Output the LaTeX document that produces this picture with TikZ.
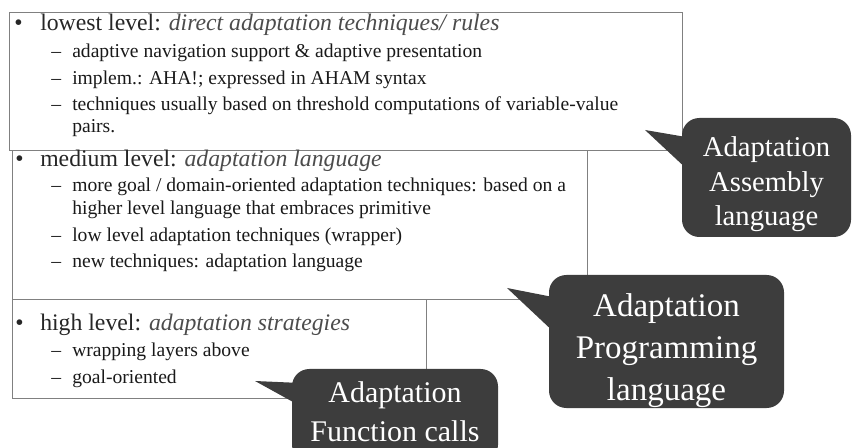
\documentclass[tikz,border=0pt]{standalone}
\usepackage{fontspec}
\setmainfont{Liberation Serif}
\usetikzlibrary{positioning}

\begin{document}
\begin{tikzpicture}[x=0.75pt,y=-0.75pt,
		level/.style={draw=black!50,line width=0.7pt},
		head/.style={anchor=base west,inner sep=0pt,text=black!85,font=\fontsize{17.8}{21}\selectfont},
		item/.style={anchor=base west,inner sep=0pt,text=black!90,font=\fontsize{14.7}{17}\selectfont},
		bubble/.style={fill=black!76,rounded corners=13pt,inner sep=0pt},
		bubtext/.style={text=white,align=center,inner sep=0pt},
		tail/.style={fill=black!76}]
		\clip (0,0) rectangle (852,448);
		
		% lowest level
		\draw[level] (9,12) rectangle (682,150);
		\node[head] (lowdot) at (14,31) {•};
		\node[head] (low) at (40,31) {lowest level: {\itshape\color{black!70}direct adaptation techniques/ rules}};
		\node[item] (lowd1) at (51,58) {–};
		\node[item] (low1) at (72,58) {adaptive navigation support \& adaptive presentation};
		\node[item] (lowd2) at (51,85) {–};
		\node[item] (low2) at (72,85) {implem.: AHA!; expressed in AHAM syntax};
		\node[item] (lowd3) at (51,111) {–};
		\node[item] (low3) at (72,111) {techniques usually based on threshold computations of variable-value};
		\node[item] (low3b) at (72,133) {pairs.};
		
		% medium level
		\draw[level] (12,150) rectangle (587,299);
		\node[head] (meddot) at (15,167) {•};
		\node[head] (med) at (40,167) {medium level: {\itshape\color{black!70}adaptation language}};
		\node[item] (medd1) at (51,192) {–};
		\node[item] (med1) at (72,192) {more goal / domain-oriented adaptation techniques: based on a};
		\node[item] (med1b) at (72,215) {higher level language that embraces primitive};
		\node[item] (medd2) at (51,242) {–};
		\node[item] (med2) at (72,242) {low level adaptation techniques (wrapper)};
		\node[item] (medd3) at (51,268) {–};
		\node[item] (med3) at (72,268) {new techniques: adaptation language};
		
		% high level
		\draw[level] (12,299) rectangle (426,398);
		\node[head] (highdot) at (15,331) {•};
		\node[head] (high) at (40,331) {high level: {\itshape\color{black!70}adaptation strategies}};
		\node[item] (highd1) at (51,357) {–};
		\node[item] (high1) at (72,357) {wrapping layers above};
		\node[item] (highd2) at (51,383) {–};
		\node[item] (high2) at (72,383) {goal-oriented};
		
		% callouts
		\node[bubble,minimum width=126.75pt,minimum height=89.25pt] (asm) at (766.5,177.5) {};
		\node[bubtext,font=\fontsize{21.5}{26}\selectfont] (asmtext) at ([yshift=-5pt]asm.center) {Adaptation\\Assembly\\language};
		\coordinate (asmtip) at (645,130);
		\fill[tail] (asmtip) -- ([xshift=2pt,yshift=-14.25pt]asm.north west) -- ([xshift=2pt,yshift=-36.75pt]asm.north west) -- cycle;
		
		\node[bubble,minimum width=176.25pt,minimum height=99.75pt] (prog) at (666.5,341.5) {};
		\node[bubtext,font=\fontsize{24.75}{31.5}\selectfont] (progtext) at ([yshift=-7pt]prog.center) {Adaptation\\Programming\\language};
		\coordinate (progtip) at (507,288);
		\fill[tail] (progtip) -- ([xshift=2pt,yshift=-16.5pt]prog.north west) -- ([xshift=2pt,yshift=-41.25pt]prog.north west) -- cycle;
		
		\node[bubble,minimum width=154.5pt,minimum height=69.75pt] (func) at (395,415.5) {};
		\node[bubtext,font=\fontsize{22.5}{29}\selectfont] (functext) at ([yshift=3pt]func.center) {Adaptation\\Function calls};
		\coordinate (functip) at (255,381);
		\fill[tail] (functip) -- ([xshift=2pt,yshift=-10.5pt]func.north west) -- ([xshift=2pt,yshift=-25.5pt]func.north west) -- cycle;
\end{tikzpicture}
\end{document}
